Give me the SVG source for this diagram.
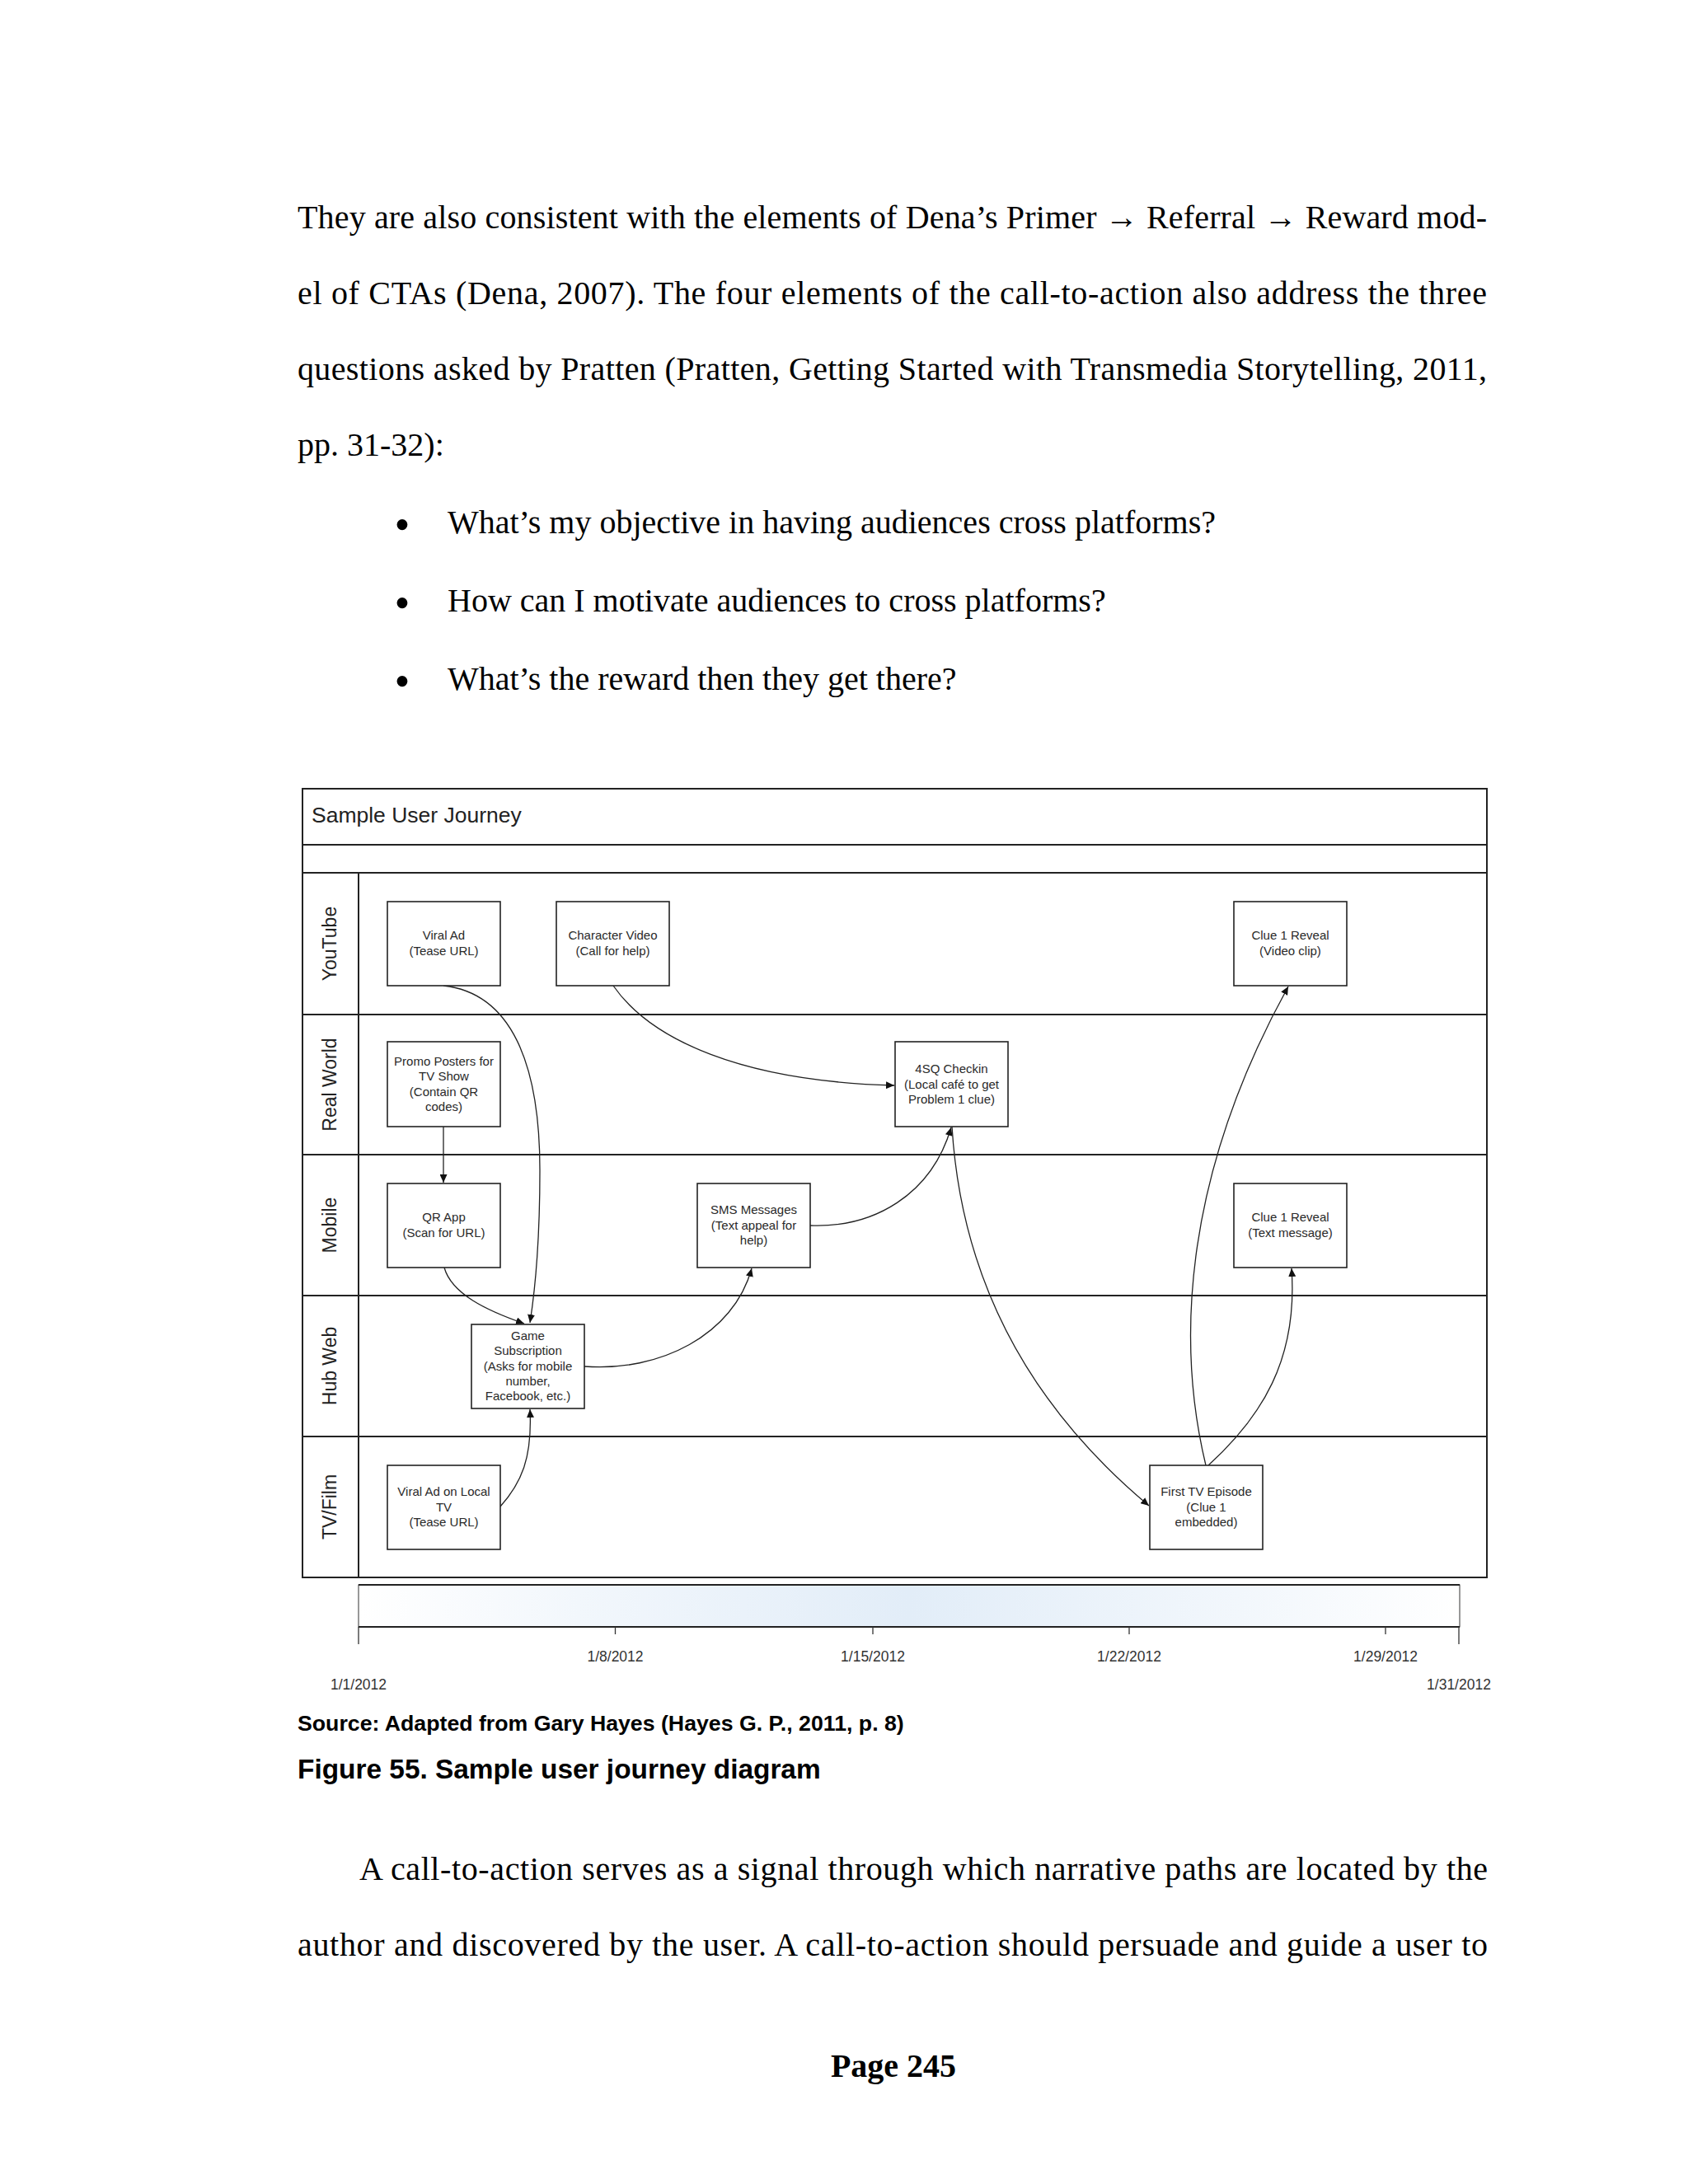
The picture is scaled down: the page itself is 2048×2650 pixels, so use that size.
<svg xmlns="http://www.w3.org/2000/svg" width="2048" height="2650" viewBox="0 0 2048 2650">
<style>
.body{font-family:"Liberation Serif","Times New Roman",serif;font-size:40px;fill:#000}
.bul{font-family:"Liberation Serif","Times New Roman",serif;font-size:54px;fill:#000;text-anchor:middle}
.cap{font-family:"Liberation Sans",Arial,sans-serif;font-weight:bold;fill:#000}
.frame{fill:none;stroke:#222;stroke-width:2}
.lane{font-family:"Liberation Sans",Arial,sans-serif;font-size:23px;fill:#222;text-anchor:middle;dominant-baseline:central}
.box rect{fill:#fff;stroke:#222;stroke-width:1.6}
.box text{font-family:"Liberation Sans",Arial,sans-serif;font-size:15px;fill:#2a2a2a;text-anchor:middle}
.conn path{fill:none;stroke:#222;stroke-width:1.3;marker-end:url(#arr)}
.tl{font-family:"Liberation Sans",Arial,sans-serif;font-size:17.5px;fill:#333;text-anchor:middle}
</style>
<defs>
<marker id="arr" viewBox="0 0 10 9" refX="10" refY="4.5" markerWidth="10" markerHeight="9" orient="auto" markerUnits="userSpaceOnUse">
<path d="M0,0 L10,4.5 L0,9 z" fill="#111"/>
</marker>
<linearGradient id="tlg" x1="0" y1="0" x2="1" y2="0">
<stop offset="0" stop-color="#ffffff"/>
<stop offset="0.2" stop-color="#f2f7fc"/>
<stop offset="0.5" stop-color="#e2edf8"/>
<stop offset="0.8" stop-color="#f2f7fc"/>
<stop offset="1" stop-color="#ffffff"/>
</linearGradient>
</defs>
<rect x="0" y="0" width="2048" height="2650" fill="#fff"/>

<g id="body-top">
<text class="body" x="361" y="276.5" textLength="1443" lengthAdjust="spacing">They are also consistent with the elements of Dena’s Primer → Referral → Reward mod-</text>
<text class="body" x="361" y="368.5" textLength="1443" lengthAdjust="spacing">el of CTAs (Dena, 2007). The four elements of the call-to-action also address the three</text>
<text class="body" x="361" y="460.5" textLength="1443" lengthAdjust="spacing">questions asked by Pratten (Pratten, Getting Started with Transmedia Storytelling, 2011,</text>
<text class="body" x="361" y="552.5">pp. 31-32):</text>
<text class="bul" x="488" y="654.5">•</text>
<text class="body" x="543" y="647">What’s my objective in having audiences cross platforms?</text>
<text class="bul" x="488" y="749.5">•</text>
<text class="body" x="543" y="742">How can I motivate audiences to cross platforms?</text>
<text class="bul" x="488" y="844.5">•</text>
<text class="body" x="543" y="837">What’s the reward then they get there?</text>
</g>

<g id="frame">
<rect class="frame" x="367" y="957" width="1437" height="957"/>
<line class="frame" x1="367" y1="1025" x2="1804" y2="1025"/>
<line class="frame" x1="367" y1="1059" x2="1804" y2="1059"/>
<line class="frame" x1="435" y1="1059" x2="435" y2="1914"/>
<line class="frame" x1="367" y1="1231" x2="1804" y2="1231"/>
<line class="frame" x1="367" y1="1401" x2="1804" y2="1401"/>
<line class="frame" x1="367" y1="1572" x2="1804" y2="1572"/>
<line class="frame" x1="367" y1="1743" x2="1804" y2="1743"/>
<text x="378" y="998" font-family="Liberation Sans, Arial, sans-serif" font-size="26.5" fill="#222">Sample User Journey</text>
<text class="lane" transform="translate(400,1145) rotate(-90)">YouTube</text>
<text class="lane" transform="translate(400,1316) rotate(-90)">Real World</text>
<text class="lane" transform="translate(400,1486.5) rotate(-90)">Mobile</text>
<text class="lane" transform="translate(400,1657.5) rotate(-90)">Hub Web</text>
<text class="lane" transform="translate(400,1828.5) rotate(-90)">TV/Film</text>
</g>

<g id="connectors" class="conn">
<path d="M538,1196 C620,1205 655,1290 655,1420 C655,1500 650,1560 643,1605"/>
<path d="M538,1367 L538,1435"/>
<path d="M539,1538 C548,1570 590,1590 636,1606"/>
<path d="M744,1196 C790,1262 900,1312 1085,1317"/>
<path d="M709,1658 C800,1665 890,1620 912,1539"/>
<path d="M607,1828 C632,1800 646,1770 643,1710"/>
<path d="M983,1487 C1060,1490 1130,1450 1154,1368"/>
<path d="M1155,1367 C1165,1530 1230,1690 1394,1827"/>
<path d="M1463,1778 C1425,1620 1440,1420 1563,1197"/>
<path d="M1466,1778 C1530,1720 1575,1650 1567,1539"/>
</g>

<g id="n-viral-ad" class="box"><rect x="470" y="1094" width="137" height="102"/>
<text x="538.5" y="1140">Viral Ad</text><text x="538.5" y="1158.5">(Tease URL)</text></g>
<g id="n-character-video" class="box"><rect x="675" y="1094" width="137" height="102"/>
<text x="743.5" y="1140">Character Video</text><text x="743.5" y="1158.5">(Call for help)</text></g>
<g id="n-clue-video" class="box"><rect x="1497" y="1094" width="137" height="102"/>
<text x="1565.5" y="1140">Clue 1 Reveal</text><text x="1565.5" y="1158.5">(Video clip)</text></g>
<g id="n-promo-posters" class="box"><rect x="470" y="1264" width="137" height="103"/>
<text x="538.5" y="1293">Promo Posters for</text><text x="538.5" y="1311.3">TV Show</text><text x="538.5" y="1329.6">(Contain QR</text><text x="538.5" y="1348">codes)</text></g>
<g id="n-4sq" class="box"><rect x="1086" y="1264" width="137" height="103"/>
<text x="1154.5" y="1302">4SQ Checkin</text><text x="1154.5" y="1320.5">(Local café to get</text><text x="1154.5" y="1339">Problem 1 clue)</text></g>
<g id="n-qr-app" class="box"><rect x="470" y="1436" width="137" height="102"/>
<text x="538.5" y="1482">QR App</text><text x="538.5" y="1500.5">(Scan for URL)</text></g>
<g id="n-sms" class="box"><rect x="846" y="1436" width="137" height="102"/>
<text x="914.5" y="1473">SMS Messages</text><text x="914.5" y="1491.5">(Text appeal for</text><text x="914.5" y="1510">help)</text></g>
<g id="n-clue-text" class="box"><rect x="1497" y="1436" width="137" height="102"/>
<text x="1565.5" y="1482">Clue 1 Reveal</text><text x="1565.5" y="1500.5">(Text message)</text></g>
<g id="n-game-sub" class="box"><rect x="572" y="1607" width="137" height="102"/>
<text x="640.5" y="1626">Game</text><text x="640.5" y="1644.3">Subscription</text><text x="640.5" y="1662.6">(Asks for mobile</text><text x="640.5" y="1681">number,</text><text x="640.5" y="1699.3">Facebook, etc.)</text></g>
<g id="n-viral-tv" class="box"><rect x="470" y="1778" width="137" height="102"/>
<text x="538.5" y="1815">Viral Ad on Local</text><text x="538.5" y="1833.5">TV</text><text x="538.5" y="1852">(Tease URL)</text></g>
<g id="n-first-tv" class="box"><rect x="1395" y="1778" width="137" height="102"/>
<text x="1463.5" y="1815">First TV Episode</text><text x="1463.5" y="1833.5">(Clue 1</text><text x="1463.5" y="1852">embedded)</text></g>

<g id="timeline">
<rect x="435" y="1923" width="1336" height="51" fill="url(#tlg)" stroke="#333" stroke-width="1"/>
<line x1="435" y1="1923" x2="1771" y2="1923" stroke="#222" stroke-width="2"/>
<line x1="435" y1="1974" x2="1771" y2="1974" stroke="#222" stroke-width="2"/>
<g stroke="#333" stroke-width="1.3">
<line x1="435" y1="1974" x2="435" y2="1995"/>
<line x1="746.5" y1="1974" x2="746.5" y2="1983"/>
<line x1="1059" y1="1974" x2="1059" y2="1983"/>
<line x1="1370" y1="1974" x2="1370" y2="1983"/>
<line x1="1681" y1="1974" x2="1681" y2="1983"/>
<line x1="1770" y1="1974" x2="1770" y2="1995"/>
</g>
<text class="tl" x="746.5" y="2016">1/8/2012</text>
<text class="tl" x="1059" y="2016">1/15/2012</text>
<text class="tl" x="1370" y="2016">1/22/2012</text>
<text class="tl" x="1681" y="2016">1/29/2012</text>
<text class="tl" x="435" y="2050">1/1/2012</text>
<text class="tl" x="1770" y="2050">1/31/2012</text>
</g>

<g id="captions">
<text class="cap" x="361" y="2100" font-size="26.7">Source: Adapted from Gary Hayes (Hayes G. P., 2011, p. 8)</text>
<text class="cap" x="361" y="2158" font-size="33.4">Figure 55. Sample user journey diagram</text>
</g>

<g id="body-bottom">
<text class="body" x="436" y="2281" textLength="1369" lengthAdjust="spacing">A call-to-action serves as a signal through which narrative paths are located by the</text>
<text class="body" x="361" y="2373" textLength="1444" lengthAdjust="spacing">author and discovered by the user. A call-to-action should persuade and guide a user to</text>
<text class="body" x="1084" y="2520" text-anchor="middle" font-weight="bold">Page 245</text>
</g>
</svg>
